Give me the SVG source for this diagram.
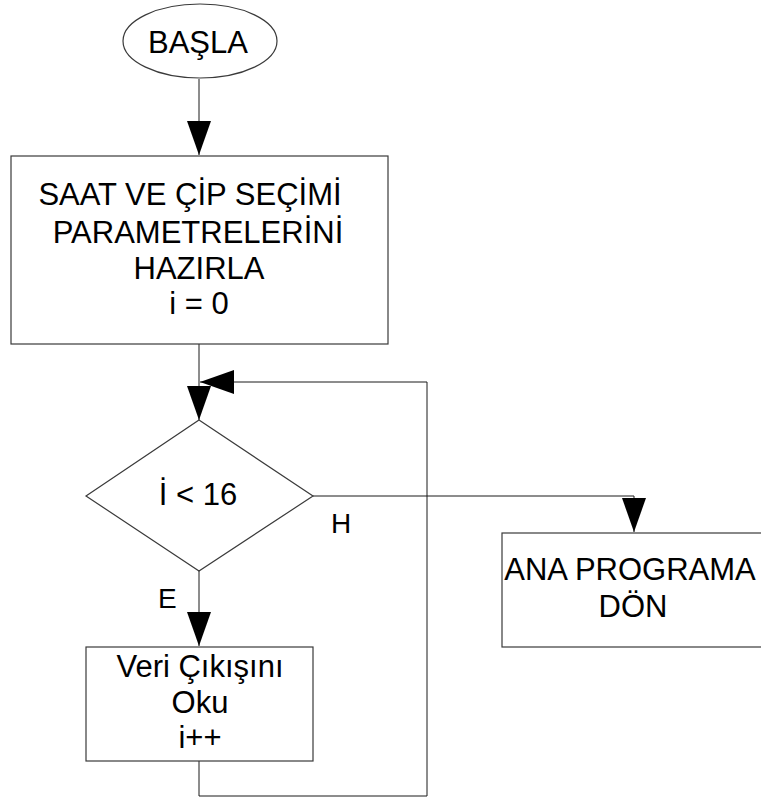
<svg xmlns="http://www.w3.org/2000/svg" width="761" height="798" viewBox="0 0 761 798">
  <style>
    .shape { fill: #ffffff; stroke: #3a3a3a; stroke-width: 1.2; }
    .wire { fill: none; stroke: #1a1a1a; stroke-width: 1; }
    .label { font-family: "Liberation Sans", Arial, sans-serif; font-size: 31px; fill: #000000; text-anchor: middle; }
    .tag { font-family: "Liberation Sans", Arial, sans-serif; font-size: 28px; fill: #000000; }
  </style>
  <defs>
    <marker id="head" viewBox="0 0 34 24" refX="34" refY="12" markerWidth="34" markerHeight="24" markerUnits="userSpaceOnUse" orient="auto">
      <path d="M0,0 L34,12 L0,24 Z" fill="#000000"/>
    </marker>
  </defs>

  <rect width="761" height="798" fill="#ffffff"/>

  <g id="connectors">
    <!-- start to setup box -->
    <path class="wire" d="M199,79 V155" marker-end="url(#head)"/>
    <!-- setup box to decision -->
    <path class="wire" d="M199,344 V420" marker-end="url(#head)"/>
    <!-- decision yes branch -->
    <path class="wire" d="M199,571 V646" marker-end="url(#head)"/>
    <!-- decision no branch -->
    <path class="wire" d="M313,496 H634 V532" marker-end="url(#head)"/>
    <!-- loop back from the read box -->
    <path class="wire" d="M199,761 V796 H427 V382 H200" marker-end="url(#head)"/>
  </g>

  <g id="start">
    <ellipse class="shape" cx="200" cy="41" rx="77" ry="37"/>
    <text class="label" x="198" y="53">BAŞLA</text>
  </g>

  <g id="setup">
    <rect class="shape" x="11" y="156" width="377" height="188"/>
    <text class="label" x="190" y="205">SAAT VE ÇİP SEÇİMİ</text>
    <text class="label" x="198" y="243">PARAMETRELERİNİ</text>
    <text class="label" x="199" y="279">HAZIRLA</text>
    <text class="label" x="199" y="314">i = 0</text>
  </g>

  <g id="decision">
    <polygon class="shape" points="199,420 313,496 199,571 86,496"/>
    <text class="label" x="198" y="505">İ &lt; 16</text>
    <text class="tag" x="331" y="533">H</text>
    <text class="tag" x="158" y="608">E</text>
  </g>

  <g id="read">
    <rect class="shape" x="86" y="647" width="227" height="114"/>
    <text class="label" x="200" y="677">Veri Çıkışını</text>
    <text class="label" x="200" y="713">Oku</text>
    <text class="label" x="200" y="748">i++</text>
  </g>

  <g id="return">
    <rect class="shape" x="502" y="533" width="264" height="114"/>
    <text class="label" x="630" y="580">ANA PROGRAMA</text>
    <text class="label" x="633" y="617">DÖN</text>
  </g>
</svg>
